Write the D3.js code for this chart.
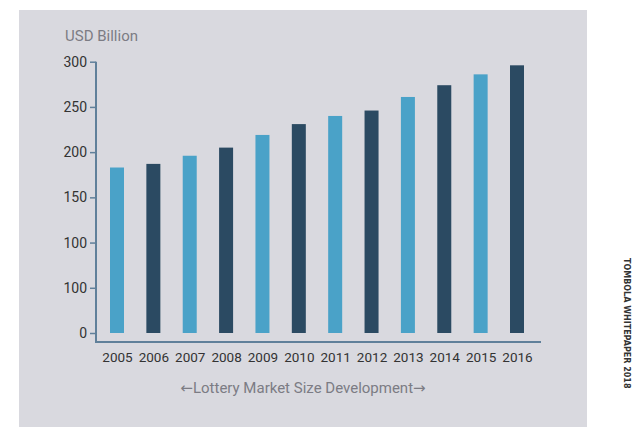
<!DOCTYPE html>
<html>
<head>
<meta charset="utf-8">
<script src="https://cdn.jsdelivr.net/npm/d3@7"></script>
<style>
  html, body { margin: 0; padding: 0; background: #fff; }
  svg { display: block; }
</style>
</head>
<body>
<div id="app"></div>
<script>
// Chart data
const years = ['2005', '2006', '2007', '2008', '2009', '2010', '2011', '2012', '2013', '2014', '2015', '2016'];
const marketSize = [183, 187, 196, 205, 219, 231, 240, 246, 261, 274, 286, 296];
const yTickValues = [0, 50, 100, 150, 200, 250, 300];
// the source prints "100" twice (at 50 and 100)
const yTickLabels = ['0', '100', '100', '150', '200', '250', '300'];

const lightBlue = '#4aa2c8';
const darkBlue = '#2b4a62';
const axisColor = '#60809a';

const drawChart = () => {
  const svg = d3.select('#app')
    .append('svg')
    .attr('width', 640)
    .attr('height', 427);

  // grey panel
  svg.append('rect')
    .attr('x', 19)
    .attr('y', 10)
    .attr('width', 568)
    .attr('height', 417)
    .attr('fill', '#d9d9df');

  const x = d3.scalePoint().domain(years).range([117, 517]);
  const y = d3.scaleLinear().domain([0, 300]).range([333, 61.7]);
  const barWidth = 14;
  const axisBottomY = 342;

  // bars
  svg.append('g')
    .selectAll('rect')
    .data(years)
    .enter()
    .append('rect')
    .attr('x', (d) => x(d) - barWidth / 2)
    .attr('y', (d, i) => y(marketSize[i]))
    .attr('width', barWidth)
    .attr('height', (d, i) => y(0) - y(marketSize[i]))
    .attr('fill', (d, i) => (i % 2 === 0 ? lightBlue : darkBlue));

  // y axis
  const yAxis = svg.append('g')
    .attr('transform', 'translate(96,0)')
    .call(
      d3.axisLeft(y)
        .tickValues(yTickValues)
        .tickSize(6)
        .tickPadding(3)
        .tickFormat((d, i) => yTickLabels[i])
    );
  yAxis.select('.domain').remove();
  yAxis.selectAll('line').attr('stroke', axisColor).attr('stroke-width', 1.5);
  yAxis.selectAll('text')
    .attr('fill', '#333')
    .style('font-family', 'Roboto, sans-serif')
    .style('font-size', '14px');

  // axis lines
  svg.append('path')
    .attr('d', `M96,${y(300)}V${axisBottomY}H541`)
    .attr('fill', 'none')
    .attr('stroke', axisColor)
    .attr('stroke-width', 2);

  // x axis labels
  const xAxis = svg.append('g')
    .attr('transform', `translate(0,${axisBottomY})`)
    .call(d3.axisBottom(x).tickSize(0).tickPadding(10));
  xAxis.select('.domain').remove();
  xAxis.selectAll('text')
    .attr('fill', '#333')
    .style('font-family', 'Roboto, sans-serif')
    .style('font-size', '13.5px');

  // unit label
  svg.append('text')
    .attr('x', 65)
    .attr('y', 41)
    .attr('fill', '#7c7c84')
    .style('font-family', 'Roboto, sans-serif')
    .style('font-size', '15px')
    .text('USD Billion');

  // caption with arrows
  const caption = svg.append('text')
    .attr('x', 303)
    .attr('y', 393)
    .attr('text-anchor', 'middle')
    .attr('fill', '#7c7c84')
    .style('font-family', 'Roboto, sans-serif')
    .style('font-size', '15px');
  caption.append('tspan')
    .style('font-family', '"DejaVu Sans", sans-serif')
    .text('\u2190');
  caption.append('tspan').text('Lottery Market Size Development');
  caption.append('tspan')
    .style('font-family', '"DejaVu Sans", sans-serif')
    .text('\u2192');

  // side label
  svg.append('text')
    .attr('transform', 'translate(624,258) rotate(90)')
    .attr('fill', '#333')
    .style('font-family', '"DejaVu Sans", sans-serif')
    .style('font-size', '8px')
    .style('font-weight', 'bold')
    .text('TOMBOLA WHITEPAPER 2018');
};

if (document.readyState != 'loading') {
  drawChart();
} else {
  document.addEventListener('DOMContentLoaded', drawChart);
}
</script>
</body>
</html>
